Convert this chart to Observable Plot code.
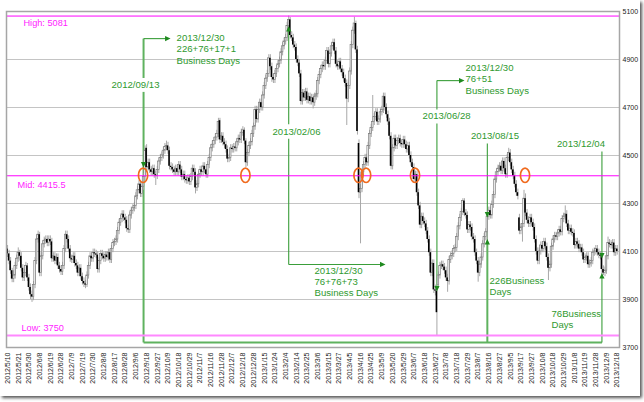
<!DOCTYPE html>
<html><head><meta charset="utf-8">
<script src="https://cdn.jsdelivr.net/npm/d3@7"></script>
<script src="https://cdn.jsdelivr.net/npm/@observablehq/plot@0.6"></script>
<style>
html,body{margin:0;padding:0;background:#fff;}
#wrap{position:relative;width:644px;height:402px;overflow:hidden;}
#shadow{position:absolute;left:0;top:0;width:640px;height:396px;box-shadow:2px 2px 3px #555;pointer-events:none;}
</style></head>
<body><div id="wrap"><div id="chart"></div><div id="shadow"></div></div>
<script>
// x-axis tick labels (one every 7 trading days)
const xLabels = ["2012/5/10","2012/5/21","2012/5/30","2012/6/8","2012/6/19","2012/6/28","2012/7/9","2012/7/19","2012/7/30","2012/8/8","2012/8/17","2012/8/28","2012/9/6","2012/9/18","2012/9/27","2012/10/9","2012/10/18","2012/10/29","2012/11/7","2012/11/16","2012/11/28","2012/12/7","2012/12/18","2012/12/28","2013/1/15","2013/1/24","2013/2/4","2013/2/14","2013/2/25","2013/3/6","2013/3/15","2013/3/27","2013/4/5","2013/4/16","2013/4/25","2013/5/9","2013/5/20","2013/5/29","2013/6/7","2013/6/18","2013/6/27","2013/7/8","2013/7/18","2013/7/29","2013/8/7","2013/8/16","2013/8/27","2013/9/5","2013/9/17","2013/9/27","2013/10/8","2013/10/18","2013/10/29","2013/11/8","2013/11/19","2013/11/28","2013/12/9","2013/12/18"];
const yTicks = [3700,3900,4100,4300,4500,4700,4900,5100];

// daily candles (trading-day index 0 = 2012/5/10)
const open = [
4110,4090,4060,4020,3985,4000,4040,4070,4095,4080,
4030,3990,4010,4040,3990,3950,3920,3910,3960,4060,
4150,4170,4010,4080,4130,4145,4150,4135,4150,4140,
4070,4080,4060,4075,4040,4025,4015,4040,4110,4170,
4150,4110,4070,4065,4080,4050,4040,4010,4030,3995,
3975,3965,3960,4000,4040,4080,4070,4095,4090,4085,
4025,4060,4090,4080,4070,4085,4075,4095,4065,4110,
4135,4140,4150,4185,4220,4235,4255,4240,4230,4195,
4190,4250,4270,4280,4290,4330,4355,4380,4340,4370,
4410,4530,4450,4470,4440,4430,4445,4420,4415,4440,
4475,4490,4500,4520,4535,4540,4520,4455,4450,4440,
4430,4445,4430,4460,4440,4410,4420,4400,4395,4405,
4390,4410,4445,4430,4365,4380,4420,4440,4430,4455,
4440,4420,4460,4490,4530,4545,4560,4575,4590,4645,
4565,4580,4555,4545,4525,4485,4490,4530,4525,4535,
4530,4555,4570,4565,4595,4605,4560,4470,4510,4540,
4555,4590,4620,4690,4650,4690,4720,4700,4750,4790,
4820,4840,4905,4870,4825,4815,4840,4860,4880,4895,
4930,4955,4975,4990,5040,5065,5000,4990,4960,4950,
4900,4885,4840,4725,4760,4740,4765,4730,4745,4725,
4740,4720,4745,4755,4810,4835,4860,4875,4870,4895,
4935,4880,4925,4955,4970,4935,4880,4870,4890,4860,
4845,4820,4800,4735,4790,4850,4960,5020,5050,4940,
4550,4345,4360,4430,4460,4490,4470,4540,4590,4615,
4640,4660,4680,4640,4650,4680,4690,4745,4700,4670,
4640,4580,4455,4530,4570,4540,4560,4570,4550,4545,
4565,4545,4525,4540,4500,4470,4450,4400,4420,4345,
4290,4210,4245,4225,4215,4185,4150,4095,4010,4050,
3940,3935,3960,4000,4040,4045,4035,4020,3990,3975,
4065,4080,4090,4110,4115,4160,4205,4240,4265,4310,
4260,4250,4190,4210,4200,4160,4150,4095,4060,4010,
4045,4075,4130,4160,4180,4245,4270,4250,4295,4335,
4400,4430,4445,4455,4435,4475,4445,4420,4490,4510,
4470,4440,4415,4380,4345,4240,4185,4200,4215,4320,
4260,4230,4215,4240,4220,4200,4150,4100,4060,4100,
4125,4110,4140,4120,4075,4030,4045,4120,4150,4165,
4160,4175,4190,4180,4235,4245,4255,4215,4185,4195,
4180,4175,4125,4140,4130,4110,4115,4095,4065,4075,
4080,4045,4050,4060,4095,4100,4110,4095,4085,4080,
4025,4010,4020,4080,4135,4130,4125,4135,4095,4110];
const high = [
4125,4105,4075,4030,4020,4055,4085,4115,4105,4095,
4045,4025,4055,4050,4005,3965,3935,3975,4075,4170,
4185,4180,4095,4145,4160,4165,4165,4165,4165,4155,
4095,4095,4090,4090,4055,4040,4055,4125,4185,4185,
4165,4125,4085,4095,4095,4065,4055,4045,4045,4010,
3990,3980,4015,4055,4095,4095,4110,4110,4105,4100,
4075,4105,4105,4095,4100,4100,4110,4110,4125,4150,
4155,4165,4200,4235,4250,4270,4270,4255,4245,4210,
4265,4285,4295,4305,4345,4370,4395,4395,4385,4425,
4540,4545,4485,4485,4455,4460,4460,4435,4455,4490,
4505,4515,4535,4550,4560,4555,4535,4470,4465,4455,
4460,4460,4475,4475,4455,4435,4435,4415,4420,4420,
4425,4460,4460,4445,4395,4435,4455,4455,4470,4470,
4455,4475,4505,4545,4560,4575,4590,4605,4655,4655,
4595,4595,4570,4560,4540,4505,4545,4545,4550,4550,
4570,4585,4585,4610,4620,4615,4570,4525,4555,4570,
4605,4635,4705,4705,4705,4735,4735,4765,4805,4835,
4855,4920,4920,4885,4840,4855,4875,4895,4910,4945,
4970,4990,5005,5055,5081,5075,5015,5005,4975,4965,
4915,4900,4855,4775,4775,4780,4780,4760,4760,4755,
4755,4760,4770,4825,4850,4875,4890,4890,4910,4950,
4950,4940,4970,4985,4985,4950,4895,4905,4905,4875,
4860,4835,4815,4805,4865,4975,5035,5076,5060,4955,
4565,4380,4445,4475,4505,4505,4555,4605,4630,4750,
4675,4695,4695,4665,4695,4705,4760,4760,4715,4685,
4655,4595,4545,4585,4585,4575,4585,4585,4565,4580,
4580,4560,4555,4555,4515,4485,4465,4435,4435,4360,
4305,4260,4260,4240,4230,4200,4165,4110,4065,4065,
3960,3950,4015,4055,4060,4060,4050,4035,4005,4080,
4095,4105,4125,4130,4175,4220,4255,4280,4320,4320,
4275,4265,4225,4225,4215,4175,4165,4110,4075,4060,
4090,4145,4175,4195,4255,4285,4285,4310,4350,4415,
4445,4460,4470,4470,4490,4490,4460,4505,4530,4525,
4485,4455,4430,4395,4360,4255,4215,4230,4355,4340,
4275,4245,4255,4255,4235,4215,4165,4115,4115,4140,
4140,4155,4155,4135,4090,4060,4135,4165,4180,4180,
4190,4205,4205,4250,4260,4290,4270,4230,4210,4210,
4195,4190,4155,4155,4145,4130,4130,4110,4090,4095,
4095,4065,4075,4110,4115,4125,4125,4110,4100,4085,
4040,4035,4095,4160,4150,4145,4150,4150,4125,4125];
const low = [
4075,4045,4005,3970,3970,3985,4025,4055,4060,4015,
3975,3975,3995,3975,3935,3900,3888,3895,3945,4045,
4135,3995,3995,4065,4115,4130,4120,4120,4125,4055,
4055,4045,4045,4025,4010,4000,4000,4025,4095,4135,
4095,4055,4050,4050,4035,4025,3995,3995,3980,3960,
3950,3945,3950,3985,4025,4055,4055,4075,4070,4010,
4010,4045,4065,4055,4055,4060,4060,4050,4050,4095,
4120,4125,4135,4170,4205,4220,4225,4215,4180,4175,
4175,4235,4255,4265,4275,4315,4340,4325,4325,4355,
4395,4435,4435,4425,4415,4415,4405,4375,4400,4425,
4460,4475,4485,4505,4520,4505,4440,4435,4425,4415,
4415,4415,4415,4425,4395,4395,4385,4380,4380,4375,
4375,4395,4415,4340,4350,4365,4405,4415,4415,4425,
4405,4405,4445,4475,4515,4530,4545,4560,4575,4550,
4550,4540,4530,4510,4470,4470,4475,4510,4510,4515,
4515,4540,4550,4550,4580,4545,4450,4455,4495,4525,
4540,4575,4605,4635,4635,4675,4685,4685,4735,4775,
4805,4825,4855,4805,4800,4800,4825,4845,4865,4880,
4915,4940,4960,4975,5030,4985,4975,4945,4935,4885,
4870,4825,4710,4710,4725,4725,4715,4715,4710,4710,
4694,4705,4730,4740,4795,4820,4845,4855,4855,4880,
4865,4865,4910,4940,4920,4865,4855,4855,4845,4830,
4805,4785,4625,4720,4775,4835,4945,5005,4925,4585,
4320,4132,4345,4415,4445,4455,4455,4525,4575,4600,
4625,4645,4625,4625,4635,4665,4675,4685,4655,4625,
4565,4440,4440,4515,4525,4525,4545,4535,4530,4530,
4530,4510,4510,4485,4455,4435,4385,4385,4330,4275,
4195,4195,4210,4200,4170,4135,4080,3995,3995,3925,
3915,3750,3945,3985,4025,4020,4005,3975,3930,3960,
4050,4065,4075,4095,4100,4145,4190,4225,4250,4245,
4235,4175,4175,4185,4145,4135,4080,4045,3972,3995,
4030,4060,4115,4145,4145,4230,4235,4235,4280,4320,
4385,4415,4430,4420,4420,4430,4405,4405,4475,4455,
4425,4400,4365,4330,4315,4170,4170,4139,4200,4245,
4215,4200,4200,4205,4185,4135,4085,4045,4045,4085,
4095,4095,4105,4060,3979,4015,4030,4105,4135,4145,
4145,4160,4165,4165,4220,4230,4200,4170,4170,4165,
4160,4110,4110,4115,4095,4095,4080,4050,4050,4060,
4030,4030,4035,4045,4080,4085,4080,4070,4065,4000,
4000,3995,4005,4065,4115,4110,4110,4080,4080,4085];
const close = [
4090,4060,4020,3985,4000,4040,4070,4095,4080,4030,
3990,4010,4040,3990,3950,3920,3910,3960,4060,4150,
4170,4010,4080,4130,4145,4150,4135,4150,4140,4070,
4080,4060,4075,4040,4025,4015,4040,4110,4170,4150,
4110,4070,4065,4080,4050,4040,4010,4030,3995,3975,
3965,3960,4000,4040,4080,4070,4095,4090,4085,4025,
4060,4090,4080,4070,4085,4075,4095,4065,4110,4135,
4140,4150,4185,4220,4235,4255,4240,4230,4195,4190,
4250,4270,4280,4290,4330,4355,4380,4340,4370,4410,
4520,4450,4470,4440,4430,4445,4420,4415,4440,4475,
4490,4500,4520,4535,4540,4520,4455,4450,4440,4430,
4445,4430,4460,4440,4410,4420,4400,4395,4405,4390,
4410,4445,4430,4365,4380,4420,4440,4430,4455,4440,
4420,4460,4490,4530,4545,4560,4575,4590,4640,4565,
4580,4555,4545,4525,4485,4490,4530,4525,4535,4530,
4555,4570,4565,4595,4605,4560,4470,4510,4540,4555,
4590,4620,4690,4650,4690,4720,4700,4750,4790,4820,
4840,4905,4870,4825,4815,4840,4860,4880,4895,4930,
4955,4975,4990,5040,5065,5000,4990,4960,4950,4900,
4885,4840,4725,4760,4740,4765,4730,4745,4725,4740,
4720,4745,4755,4810,4835,4860,4875,4870,4895,4935,
4880,4925,4955,4970,4935,4880,4870,4890,4860,4845,
4820,4800,4735,4790,4850,4960,5020,5050,4940,4600,
4345,4360,4430,4460,4490,4470,4540,4590,4615,4640,
4660,4680,4640,4650,4680,4690,4745,4700,4670,4640,
4580,4455,4530,4570,4540,4560,4570,4550,4545,4565,
4545,4525,4540,4500,4470,4450,4400,4420,4345,4290,
4210,4245,4225,4215,4185,4150,4095,4010,4050,3940,
3935,3845,4000,4040,4045,4035,4020,3990,3975,4065,
4080,4090,4110,4115,4160,4205,4240,4265,4310,4260,
4250,4190,4210,4200,4160,4150,4095,4060,4010,4045,
4075,4130,4160,4180,4245,4270,4250,4295,4335,4400,
4430,4445,4455,4435,4475,4445,4420,4490,4510,4470,
4440,4415,4380,4345,4330,4185,4200,4215,4320,4260,
4230,4215,4240,4220,4200,4150,4100,4060,4100,4125,
4110,4140,4120,4075,4030,4045,4120,4150,4165,4160,
4175,4190,4180,4235,4245,4255,4215,4185,4195,4180,
4175,4125,4140,4130,4110,4115,4095,4065,4075,4080,
4045,4050,4060,4095,4100,4110,4095,4085,4080,4025,
4010,4020,4080,4135,4130,4125,4135,4095,4110,4100];

// reference levels
const levelNames = ["High", "Mid", "Low"];
const levelValues = [5081, 4415.5, 3750];
// days where the orange rings sit on the Mid line
const ringDays = [89, 156, 230, 235, 267, 339];

// annotation lines [x1, y1, x2, y2] (trading-day index, price)
const thickLinks = [[89,4987,89,4823],[89,4765,89,3721],[89,3721,389,3721],[314,4140,314,3721]];
const thinLinks = [[89,4987,104,4987],[184,5027,184,4630],[184,4570,184,4046],[184,4046,245,4046],
  [281,4812,281,4692],[281,4633,281,3946],[281,4812,297,4812],[314,4550,314,4140],
  [389,4517,389,4083],[389,3998,389,3721]];
const headsRight = [[104.7,4987],[245.4,4046],[297.1,4812]];
const headsDown = [[89,4462],[281,3946],[314,4254],[389,4083]];
const headsUp = [[184,5027],[314,4140],[389,3998]];

// annotation texts
const noteDates = [
  {x: 83.7, y: 4796, t: "2012/09/13"},
  {x: 189.1, y: 4600, t: "2013/02/06"},
  {x: 287.3, y: 4664, t: "2013/06/28"},
  {x: 319.0, y: 4580, t: "2013/08/15"},
  {x: 375.3, y: 4549, t: "2013/12/04"}];
const noteCounts = [
  {x: 110.6, y: 4989, t: "2013/12/30"}, {x: 110.6, y: 4942, t: "226+76+17+1"}, {x: 110.6, y: 4895, t: "Business Days"},
  {x: 200.9, y: 4021, t: "2013/12/30"}, {x: 200.9, y: 3975, t: "76+76+73"}, {x: 200.9, y: 3929, t: "Business Days"},
  {x: 299.7, y: 4864, t: "2013/12/30"}, {x: 299.7, y: 4817, t: "76+51"}, {x: 299.7, y: 4770, t: "Business Days"},
  {x: 315.4, y: 3977, t: "226Business"}, {x: 315.4, y: 3931, t: "Days"},
  {x: 356.0, y: 3840, t: "76Business"}, {x: 356.0, y: 3795, t: "Days"}];

const days = d3.range(close.length);
const upDays = days.filter(i => close[i] >= open[i]);
const downDays = days.filter(i => close[i] < open[i]);
const tickDays = xLabels.map((_, k) => k * 7);
const levels = levelNames.map((n, k) => ({name: n, value: levelValues[k], label: `${n}: ${levelValues[k]}`}));
const green = "#2f9a2f";
const tri = (pts) => ({draw(ctx) { ctx.moveTo(pts[0], pts[1]); ctx.lineTo(pts[2], pts[3]); ctx.lineTo(pts[4], pts[5]); ctx.closePath(); }});
const symRight = tri([3, 0, -2.5, -2.6, -2.5, 2.6]);
const symDown = tri([0, 3, -2.6, -2.5, 2.6, -2.5]);
const symUp = tri([0, -3, -2.6, 2.5, 2.6, 2.5]);
const levelText = (name, x, dy) => Plot.text(levels.filter(d => d.name === name),
  {x: () => x, y: "value", text: "label", dy, textAnchor: "start", fill: "#ff22ff", fontSize: 9.2});

const chart = Plot.plot({
  width: 644, height: 402,
  marginLeft: 6, marginRight: 25, marginTop: 11, marginBottom: 55,
  style: {fontFamily: "'Liberation Sans', Arial, sans-serif", background: "white"},
  x: {domain: [-0.7, 400.5]},
  y: {domain: [3700, 5100]},
  marks: [
    Plot.ruleY(yTicks.slice(1, -1), {stroke: "#c4c4c4", strokeWidth: 1}),
    Plot.link(thickLinks, {x1: d => d[0], y1: d => d[1], x2: d => d[2], y2: d => d[3], stroke: "#5fb25f", strokeWidth: 2}),
    Plot.link(thinLinks, {x1: d => d[0], y1: d => d[1], x2: d => d[2], y2: d => d[3], stroke: "#3a9e3a", strokeWidth: 1.1}),
    Plot.ruleX(days, {x: d => d, y1: i => low[i], y2: i => high[i], stroke: "#a8a8a8", strokeWidth: 1}),
    Plot.rect(upDays, {x1: i => i - 0.5, x2: i => i + 0.5, y1: i => open[i], y2: i => close[i], fill: "#fff", stroke: "#7c7c7c", strokeWidth: 0.7}),
    Plot.rect(downDays, {x1: i => i - 0.52, x2: i => i + 0.52, y1: i => open[i], y2: i => close[i], fill: "#000"}),
    Plot.ruleY(levels.filter(d => d.name !== "Low"), {y: "value", stroke: "#ff00ff", strokeWidth: 1}),
    Plot.ruleY(levels.filter(d => d.name === "Low"), {y: "value", stroke: "#ff88ff", strokeWidth: 2}),
    levelText("High", 10.4, 7),
    levelText("Mid", 6.5, 9),
    levelText("Low", 9.1, -7),
    (index, scales) => {
      const g = d3.create("svg:g").attr("fill", "none").attr("stroke", "#f06a1e").attr("stroke-width", 1.7);
      for (const d of ringDays) g.append("ellipse").attr("cx", scales.x(d)).attr("cy", scales.y(levelValues[1])).attr("rx", 4.6).attr("ry", 7.2);
      return g.node();
    },
    Plot.dot(headsRight, {x: d => d[0], y: d => d[1], symbol: symRight, fill: "#1f8a1f", stroke: null, r: 3}),
    Plot.dot(headsDown, {x: d => d[0], y: d => d[1], symbol: symDown, fill: "#1f8a1f", stroke: null, r: 3}),
    Plot.dot(headsUp, {x: d => d[0], y: d => d[1], symbol: symUp, fill: "#1f8a1f", stroke: null, r: 3}),
    Plot.text(noteDates, {x: "x", y: "y", text: "t", textAnchor: "middle", fill: green, fontSize: 9.6}),
    Plot.text(noteCounts, {x: "x", y: "y", text: "t", textAnchor: "start", fill: green, fontSize: 9.6}),
    Plot.frame({stroke: "#a6a6a6", strokeWidth: 1.5}),
    Plot.axisX({ticks: tickDays, tickFormat: d => xLabels[Math.round(d / 7)], tickRotate: -90, tickSize: 0, tickPadding: 5, fontSize: 7, label: null, fill: "#222"}),
    Plot.axisY({anchor: "right", ticks: yTicks, tickFormat: d => String(d), tickSize: 0, tickPadding: 3, fontSize: 7, label: null, fill: "#222"})
  ]
});
document.getElementById("chart").appendChild(chart);
</script>
</body></html>
